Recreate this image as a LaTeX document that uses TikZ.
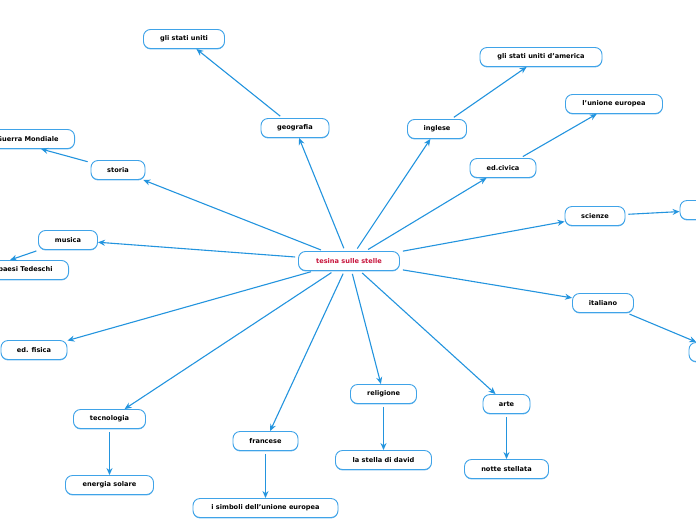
\documentclass[tikz,border=0pt]{standalone}
\usepackage{fontspec}
\setmainfont{DejaVu Sans}
\usetikzlibrary{arrows.meta,shadows}
\definecolor{lineblue}{HTML}{2394DE}
\definecolor{boxblue}{HTML}{3FA3E8}
\definecolor{maintext}{HTML}{C8143C}
\tikzset{
  box/.style={draw=boxblue, line width=0.9pt, rounded corners=7pt, fill=white,
    minimum height=19pt, inner xsep=4pt, inner ysep=0pt,
    font=\fontsize{6.6}{7.5}\selectfont\bfseries, text=black,
    drop shadow={shadow xshift=0pt, shadow yshift=-0.9pt, fill=boxblue, opacity=0.8}},
  conn/.style={draw=lineblue, line width=1.1pt, -{Stealth[length=7pt,width=6pt]}, shorten <=3pt},
}
\begin{document}
\begin{tikzpicture}[x=1pt,y=-1pt]
\useasboundingbox (0,0) rectangle (696,520);
% center
\node[box, minimum width=101pt, text=maintext] (c) at (349,261) {tesina sulle stelle};
% first level
\node[box, minimum width=68pt] (geo) at (295,128) {geografia};
\node[box, minimum width=59pt] (ing) at (437,129) {inglese};
\node[box, minimum width=66pt] (civ) at (503,168) {ed.civica};
\node[box, minimum width=60pt] (sci) at (595,216) {scienze};
\node[box, minimum width=61pt] (ita) at (603,303) {italiano};
\node[box, minimum width=47pt] (art) at (506.5,404) {arte};
\node[box, minimum width=66pt] (rel) at (383.5,394) {religione};
\node[box, minimum width=65pt] (fra) at (265.5,441) {francese};
\node[box, minimum width=72pt] (tec) at (109.5,419) {tecnologia};
\node[box, minimum width=66pt] (fis) at (34,350) {ed. fisica};
\node[box, minimum width=59pt] (mus) at (68,240) {musica};
\node[box, minimum width=54pt] (sto) at (118,170) {storia};
% second level
\node[box, minimum width=81pt] (usa) at (184,39) {gli stati uniti};
\node[box, minimum width=122pt] (usam) at (541,57) {gli stati uniti d'america};
\node[box, minimum width=97pt] (ue) at (614,104) {l'unione europea};
\node[box, minimum width=60pt] (sci2) at (710,210) {};
\node[box, minimum width=62pt] (ita2) at (720,352) {};
\node[box, minimum width=84pt] (notte) at (506.5,469) {notte stellata};
\node[box, minimum width=96pt] (david) at (383.5,460) {la stella di david};
\node[box, minimum width=145pt] (simb) at (265.5,508) {i simboli dell'unione europea};
\node[box, minimum width=88pt] (sol) at (109.5,485) {energia solare};
\node[box, anchor=east, inner xsep=16pt] (paesi) at (69,270) {paesi Tedeschi};
\node[box, anchor=east, inner xsep=16pt] (guerra) at (75,139) {Guerra Mondiale};
% connectors
\foreach \n in {geo,ing,civ,sci,ita,art,rel,fra,tec,fis,mus,sto}
  \draw[conn] (c) -- (\n);
\draw[conn] (geo) -- (usa);
\draw[conn] (ing) -- (usam);
\draw[conn] (civ) -- (ue);
\draw[conn] (sci) -- (sci2);
\draw[conn] (ita) -- (ita2);
\draw[conn] (art) -- (notte);
\draw[conn] (rel) -- (david);
\draw[conn] (fra) -- (simb);
\draw[conn] (tec) -- (sol);
\draw[conn] (mus) -- ([xshift=-59pt]paesi.north east);
\draw[conn] (sto) -- ([xshift=-34pt]guerra.south east);
\end{tikzpicture}
\end{document}
